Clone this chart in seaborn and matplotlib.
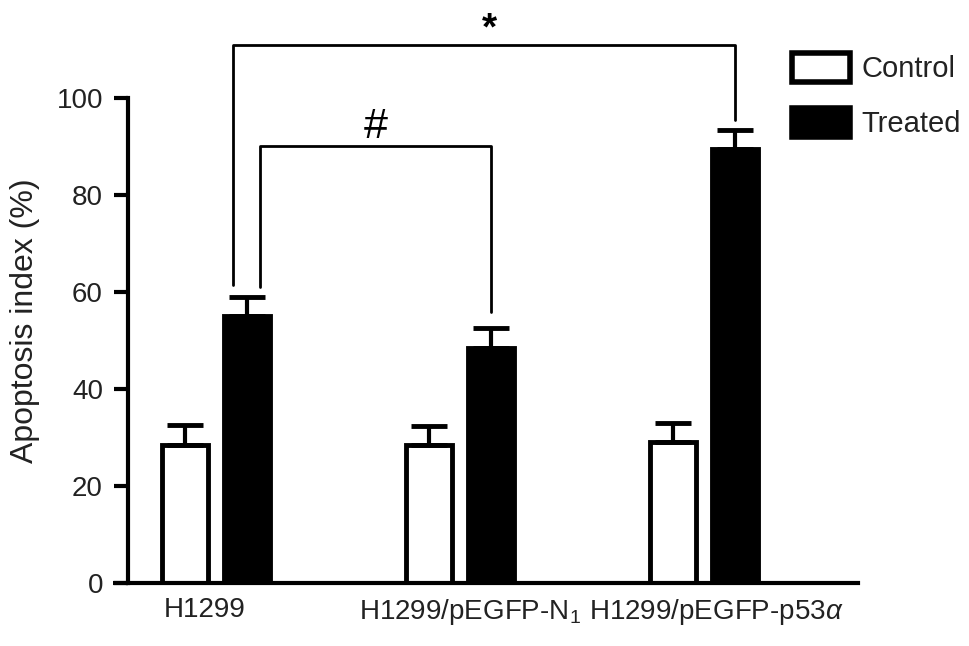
import numpy as np
import pandas as pd
import matplotlib
matplotlib.use("Agg")
import matplotlib.pyplot as plt
import matplotlib.transforms as mtransforms
import seaborn as sns

# Data
groups = ["H1299", "H1299/pEGFP-N$_1$", "H1299/pEGFP-p53$\\alpha$"]
conditions = ["Control", "Treated"]
control_mean = [28.5, 28.5, 29.0]
treated_mean = [55.0, 48.5, 89.5]
control_err = [4.0, 3.8, 4.0]
treated_err = [4.0, 4.0, 4.0]

df = pd.DataFrame({
    "group": groups * 2,
    "condition": ["Control"] * 3 + ["Treated"] * 3,
    "value": control_mean + treated_mean,
})
errs = {"Control": control_err, "Treated": treated_err}

sns.set_style("ticks")
plt.rcParams["font.family"] = ["Liberation Sans", "DejaVu Sans"]
plt.rcParams["mathtext.fontset"] = "custom"
plt.rcParams["mathtext.rm"] = "Liberation Sans"
plt.rcParams["mathtext.it"] = "Liberation Sans:italic"
plt.rcParams["text.color"] = "#222222"
plt.rcParams["axes.labelcolor"] = "#222222"
plt.rcParams["xtick.color"] = "black"
plt.rcParams["ytick.color"] = "black"
plt.rcParams["xtick.labelcolor"] = "#222222"
plt.rcParams["ytick.labelcolor"] = "#222222"

fig = plt.figure(figsize=(9.69, 6.46), dpi=100)
ax = fig.add_axes([128 / 969, 63 / 646, 730 / 969, 485 / 646])

sns.barplot(data=df, x="group", y="value", hue="condition", order=groups,
            hue_order=conditions, palette={"Control": "white", "Treated": "black"},
            edgecolor="black", linewidth=3.5, width=0.508, gap=0.25,
            errorbar=None, legend=True, ax=ax)

# upper error bars only
for cont, cond in zip(ax.containers, conditions):
    xs = [p.get_x() + p.get_width() / 2 for p in cont.patches]
    hs = [p.get_height() for p in cont.patches]
    e = errs[cond]
    ax.errorbar(xs, hs, yerr=[np.zeros(len(e)), e], fmt="none", ecolor="black",
                elinewidth=3, capsize=13, capthick=3.5, zorder=5)

ax.set_xlim(-0.36, 2.63)
ax.set_ylim(0, 100)
ax.set_yticks(np.arange(0, 101, 20))
ax.set_xlabel("")
ax.set_ylabel("Apoptosis index (%)", fontsize=23)
ax.yaxis.set_label_coords(-0.12, 0.54)
ax.tick_params(axis="y", length=10, width=3, labelsize=20, pad=8)
ax.tick_params(axis="x", length=0, labelsize=20, pad=10)
for s in ["left", "bottom"]:
    ax.spines[s].set_linewidth(3)
    ax.spines[s].set_color("black")
sns.despine(ax=ax)
# x axis line sticks out past the y axis
ax.plot([-0.02, 0], [0, 0], transform=ax.transAxes, color="black", lw=3,
        clip_on=False, solid_capstyle="butt")

# nudge the category labels like the original
for lab, dx in zip(ax.get_xticklabels(), [-11, 10, 12]):
    lab.set_transform(lab.get_transform() +
                      mtransforms.ScaledTranslation(dx / 100, 0, fig.dpi_scale_trans))

# significance brackets
tc = [p.get_x() + p.get_width() / 2 for p in ax.containers[1].patches]
bkw = dict(color="black", lw=2, clip_on=False)
ax.plot([tc[0] - 0.057, tc[0] - 0.057, tc[2], tc[2]], [61.5, 110.9, 110.9, 95.5], **bkw)
ax.plot([tc[0] + 0.055, tc[0] + 0.055, tc[1], tc[1]], [61.0, 90.1, 90.1, 55.8], **bkw)
ax.text((tc[0] + tc[2]) / 2 - 0.005, 110.5, "*", ha="center", va="bottom",
        fontsize=28, fontweight="bold", color="black")
ax.text(0.655, 89.8, "#", ha="center", va="bottom", fontsize=31, color="black")

# legend
handles, labels = ax.get_legend_handles_labels()
for h in handles:
    h.set_linewidth(4)
ax.legend_.remove()
fig.legend(handles, labels, loc="upper left", bbox_to_anchor=(780 / 969, 1 - 41 / 646),
           frameon=False, fontsize=21, handlelength=2.0, handleheight=1.15,
           handletextpad=0.4, labelspacing=0.85, borderaxespad=0)

fig.savefig("out.png", dpi=100)
